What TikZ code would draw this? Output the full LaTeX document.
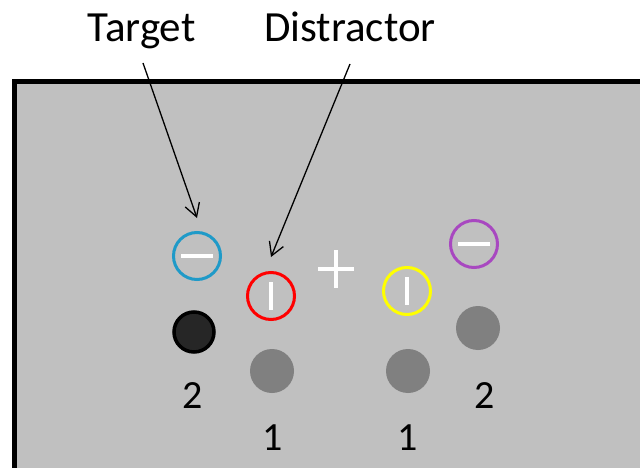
\documentclass[tikz,border=0pt]{standalone}
\usepackage{fontspec}
\setmainfont{Carlito}
\usetikzlibrary{arrows.meta}
\definecolor{bg}{HTML}{C0C0C0}
\definecolor{cblue}{HTML}{1F9AC8}
\definecolor{cpurple}{HTML}{A848C0}
\definecolor{cyel}{HTML}{FFFF00}
\definecolor{cred}{HTML}{FF0000}
\definecolor{dotgray}{HTML}{808080}
\definecolor{dotblack}{HTML}{262626}
\tikzset{
  ring/.style={circle, draw, line width=3pt, minimum size=47pt, inner sep=0pt},
  dot/.style={circle, fill=dotgray, minimum size=44pt, inner sep=0pt},
  bar/.style={draw=white, line width=4.5pt},
  lbl/.style={font=\fontsize{43}{50}\selectfont, anchor=base, inner sep=0pt},
  num/.style={font=\fontsize{40}{46}\selectfont, anchor=base, inner sep=0pt},
  arr/.style={line width=1.3pt, -{Straight Barb[length=13pt,width=15pt,line width=1.3pt]}}
}
\begin{document}
\begin{tikzpicture}[x=1pt,y=-1pt]
\clip (0,0) rectangle (640,468);
\fill[white] (0,0) rectangle (640,468);
\draw[line width=5pt, fill=bg] (14.5,81.5) rectangle (680,520);
% texts
\node[lbl] (target) at (141.5,42) {Target};
\node[lbl] (distr) at (350,42) {Distractor};
% rings
\node[ring, draw=cblue] (blue) at (197,256) {};
\node[ring, draw=cred] (red) at (271,296) {};
\node[ring, draw=cyel] (yel) at (407,291) {};
\node[ring, draw=cpurple] (pur) at (474,244) {};
\draw[bar] ([xshift=-16pt]blue.center) -- ([xshift=16pt]blue.center);
\draw[bar] ([xshift=-16pt]pur.center) -- ([xshift=16pt]pur.center);
\draw[bar] ([yshift=14pt]red.center) -- ([yshift=-14pt]red.center);
\draw[bar] ([yshift=14pt]yel.center) -- ([yshift=-14pt]yel.center);
% fixation cross
\coordinate (fix) at (336,269);
\draw[bar] ([xshift=-18pt]fix) -- ([xshift=18pt]fix);
\draw[bar] ([yshift=19pt]fix) -- ([yshift=-19pt]fix);
% dots
\node[circle, fill=dotblack, draw=black, line width=3.5pt, minimum size=40pt, inner sep=0pt] (bdot) at (194,332) {};
\node[dot] (g1) at (272,371) {};
\node[dot] (g2) at (408,371) {};
\node[dot] (g3) at (478,328) {};
% numbers
\node[num] (n1) at (193,408) {2};
\node[num] (n2) at (273,450) {1};
\node[num] (n3) at (408,450) {1};
\node[num] (n4) at (485,408) {2};
% arrows
\coordinate (ts) at (143,63);
\coordinate (ds) at (350,64);
\draw[arr] (ts) -- ([yshift=13pt]blue.north);
\draw[arr] (ds) -- ([yshift=14pt]red.north);
\end{tikzpicture}
\end{document}
